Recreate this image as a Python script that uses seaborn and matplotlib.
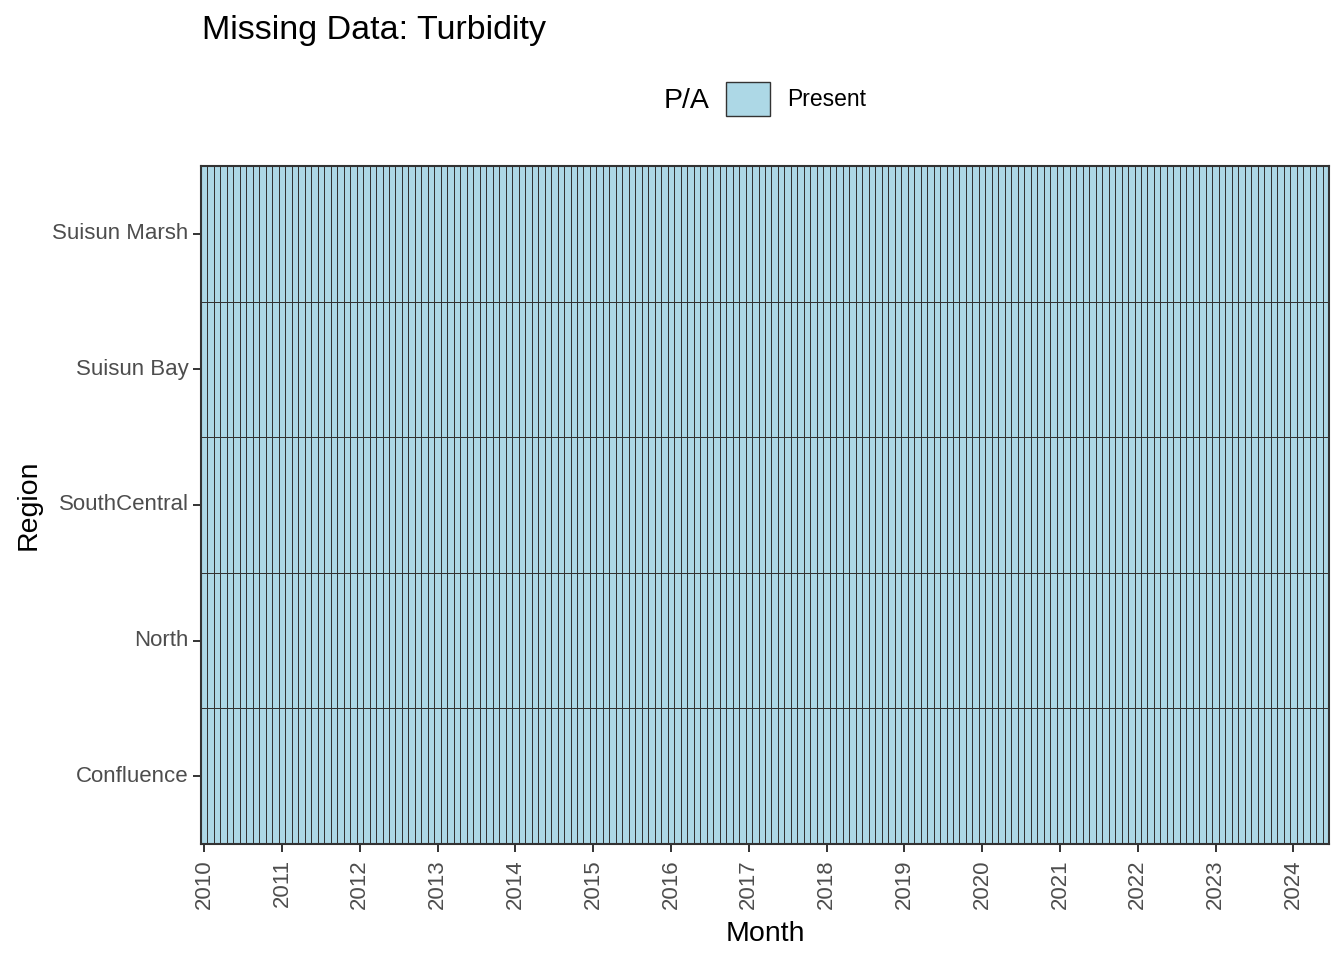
import numpy as np
import pandas as pd
import matplotlib
matplotlib.use("Agg")
from matplotlib import pyplot as plt
from matplotlib.patches import Patch
import seaborn as sns

# data: every region has turbidity data for every month Jan 2010 - Jun 2024
regions = ["Suisun Marsh", "Suisun Bay", "SouthCentral", "North", "Confluence"]
months = pd.date_range("2010-01-01", "2024-06-01", freq="MS")
present = [1] * len(months)
year_labels = [str(y) for y in range(2010, 2025)]

sns.set_style("white")
plt.rcParams['font.family'] = ['Liberation Sans', 'DejaVu Sans']

grid = pd.DataFrame([present for r in regions], index=regions,
                    columns=months.strftime("%Y-%m"))

fig = plt.figure(figsize=(13.44, 9.6), dpi=100)
ax = fig.add_axes([201/1344, 1-844/960, (1329-201)/1344, (844-166)/960])
sns.heatmap(grid, ax=ax, cmap=["#ADD8E6"], cbar=False,
            linewidths=0.6, linecolor="#333333")

# ticks on each January
jan_pos = [i + 0.5 for i, m in enumerate(months) if m.month == 1]
ax.set_xticks(jan_pos)
ax.set_xticklabels(year_labels, rotation=90, fontsize=16, color="#4D4D4D")
ax.set_yticks([i + 0.5 for i in range(len(regions))])
ax.set_yticklabels(regions, rotation=0, fontsize=16, color="#4D4D4D")
ax.tick_params(axis="both", length=6, width=1.4, color="#333333", pad=3,
               bottom=True, left=True)
ax.tick_params(axis="x", pad=5)
for s in ax.spines.values():
    s.set_visible(True)
    s.set_color("#333333")
    s.set_linewidth(1.5)

ax.set_xlabel("Month", fontsize=20.5, labelpad=9, color="black")
ax.set_ylabel("Region", fontsize=20.5, labelpad=8, color="black")

fig.text(202/1344, 1-31/960, "Missing Data: Turbidity", fontsize=24.5,
         ha="left", va="center", color="black")

# legend with title to the left
fig.text(710/1344, 1-101/960, "P/A", fontsize=20.5, ha="right", va="center",
         color="black")
handle = Patch(facecolor="#ADD8E6", edgecolor="#333333", linewidth=1.0)
fig.legend([handle], ["Present"], loc="center left",
           bbox_to_anchor=(708/1344, 1-99/960), frameon=False,
           fontsize=16.5, handlelength=1.9, handleheight=1.9,
           handletextpad=0.75, borderpad=0.3, labelcolor="black")

fig.savefig("out.png", dpi=100)
